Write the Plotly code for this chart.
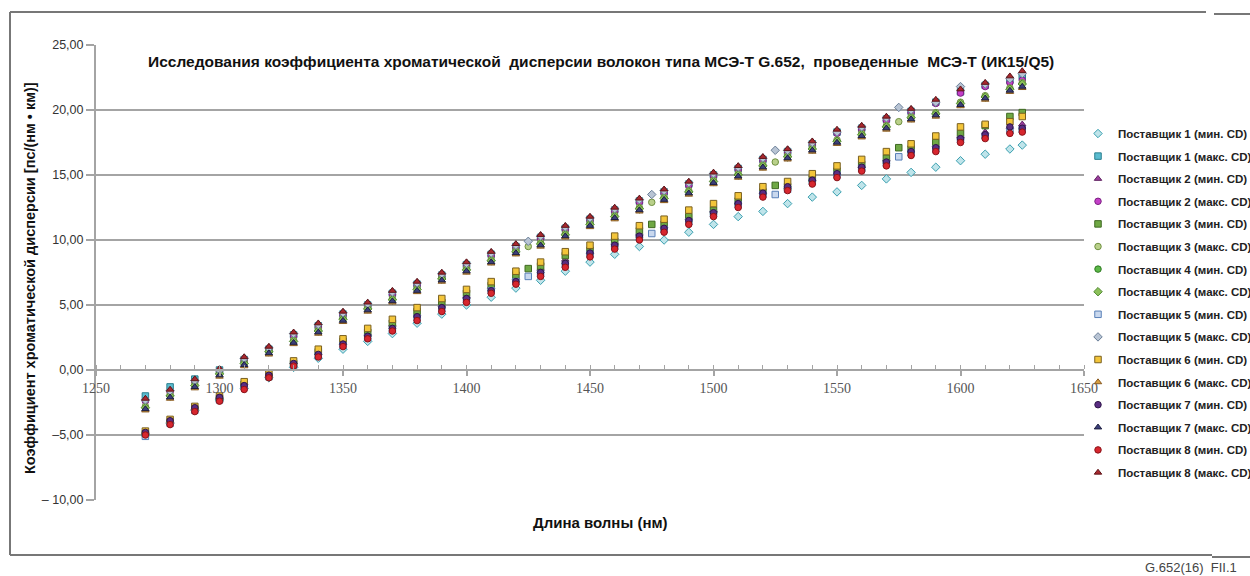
import plotly.graph_objects as go

# wavelengths (nm)
WAVE = [1270, 1280, 1290, 1300, 1310, 1320, 1330, 1340, 1350, 1360, 1370, 1380, 1390,
        1400, 1410, 1420, 1430, 1440, 1450, 1460, 1470, 1480, 1490, 1500, 1510, 1520,
        1530, 1540, 1550, 1560, 1570, 1580, 1590, 1600, 1610, 1620, 1625]
WAVE_EXTRA = [1425, 1475, 1525, 1575]

# chromatic dispersion coefficient, ps/(nm*km)
S1_MIN = [-5.0, -4.1, -3.1, -2.3, -1.4, -0.6, 0.2, 0.9, 1.6, 2.2, 2.8, 3.6, 4.3, 5.0, 5.6, 6.3, 6.9, 7.6, 8.3, 8.9,
          9.5, 10.0, 10.6, 11.2, 11.8, 12.2, 12.8, 13.3, 13.7, 14.2, 14.7, 15.2, 15.6, 16.1, 16.6, 17.0, 17.3]
S1_MAX = [-2.0, -1.3, -0.7, 0.0, 0.8, 1.6, 2.7, 3.4, 4.3, 5.0, 5.9, 6.6, 7.3, 8.1, 8.9, 9.5, 10.2, 10.9, 11.6, 12.3,
          13.0, 13.7, 14.3, 15.0, 15.5, 16.2, 16.8, 17.4, 18.3, 18.6, 19.3, 19.9, 20.6, 21.4, 21.9, 22.3, 22.6]
S2_MIN = [-4.8, -3.9, -2.9, -2.1, -1.0, -0.4, 0.6, 1.3, 2.1, 2.8, 3.5, 4.3, 5.0, 5.7, 6.4, 7.1, 7.8, 8.5, 9.1, 9.8,
          10.5, 11.1, 11.7, 12.3, 12.9, 13.7, 14.1, 14.7, 15.2, 15.7, 16.2, 16.9, 17.3, 18.0, 18.3, 18.7, 18.9]
S2_MAX = [-2.4, -1.7, -0.9, -0.1, 0.7, 1.5, 2.6, 3.3, 4.2, 4.9, 5.8, 6.5, 7.2, 8.0, 8.8, 9.4, 10.1, 10.8, 11.5, 12.2,
          12.9, 13.6, 14.2, 14.9, 15.4, 16.1, 16.7, 17.3, 18.2, 18.5, 19.2, 19.8, 20.5, 21.3, 21.8, 22.1, 22.3]
S3_MIN = [-4.9, -4.0, -3.0, -2.2, -1.1, -0.5, 0.5, 1.4, 2.2, 2.9, 3.6, 4.5, 5.2, 5.9, 6.5, 7.3, 8.0, 8.8, 9.2, 9.9,
          10.7, 11.2, 11.8, 12.3, 13.0, 13.7, 14.1, 14.7, 15.3, 15.8, 16.3, 17.0, 17.5, 18.2, 18.8, 19.5, 19.8]
S3_MIN_EXTRA = [7.8, 11.2, 14.2, 17.1]
S3_MAX = [-2.8, -1.9, -1.1, -0.2, 0.6, 1.5, 2.3, 3.1, 4.0, 4.8, 5.5, 6.3, 7.1, 7.8, 8.5, 9.2, 9.8, 10.5, 11.3, 11.9,
          12.5, 13.3, 13.8, 14.6, 15.1, 15.8, 16.5, 17.1, 17.7, 18.2, 18.8, 19.5, 19.8, 20.6, 21.1, 21.7, 22.1]
S3_MAX_EXTRA = [9.5, 12.9, 16.0, 19.1]
S4_MIN = [-4.9, -4.0, -3.0, -2.2, -1.3, -0.4, 0.5, 1.2, 2.0, 2.6, 3.2, 4.1, 4.8, 5.5, 6.1, 6.8, 7.5, 8.2, 8.9, 9.5,
          10.2, 10.8, 11.4, 12.0, 12.7, 13.5, 13.9, 14.5, 15.0, 15.4, 15.9, 16.7, 17.0, 17.7, 17.9, 18.3, 18.5]
S4_MAX = [-2.9, -2.0, -1.2, -0.3, 0.5, 1.4, 2.2, 3.0, 3.9, 4.7, 5.4, 6.2, 7.0, 7.7, 8.4, 9.1, 9.7, 10.4, 11.2, 11.8,
          12.4, 13.2, 13.7, 14.5, 15.0, 15.7, 16.4, 17.0, 17.6, 18.1, 18.7, 19.4, 19.7, 20.5, 21.0, 21.6, 22.0]
S5_MIN = [-5.1, -4.1, -3.1, -2.3, -1.3, -0.5, 0.4, 1.1, 1.9, 2.5, 3.1, 4.0, 4.7, 5.4, 6.1, 6.8, 7.4, 8.1, 8.9, 9.5,
          10.2, 10.8, 11.4, 12.0, 12.7, 13.5, 13.9, 14.5, 15.0, 15.5, 15.9, 16.7, 17.0, 17.7, 18.0, 18.4, 18.5]
S5_MIN_EXTRA = [7.2, 10.5, 13.5, 16.4]
S5_MAX = [-2.3, -1.6, -0.8, 0.0, 0.9, 1.7, 2.8, 3.5, 4.4, 5.1, 6.0, 6.7, 7.4, 8.2, 9.0, 9.6, 10.3, 11.0, 11.7, 12.4,
          13.1, 13.8, 14.4, 15.1, 15.6, 16.3, 16.9, 17.5, 18.3, 18.7, 19.4, 20.0, 20.6, 21.8, 22.0, 22.4, 22.8]
S5_MAX_EXTRA = [9.9, 13.5, 16.9, 20.2]
S6_MIN = [-4.7, -3.8, -2.8, -2.0, -0.9, -0.3, 0.7, 1.6, 2.4, 3.2, 3.9, 4.8, 5.5, 6.2, 6.8, 7.6, 8.3, 9.1, 9.6, 10.3,
          11.1, 11.6, 12.3, 12.8, 13.4, 14.1, 14.5, 15.1, 15.7, 16.2, 16.8, 17.4, 18.0, 18.7, 18.9, 19.1, 19.5]
S6_MAX = [-3.1, -2.2, -1.4, -0.5, 0.3, 1.2, 2.0, 2.8, 3.7, 4.5, 5.2, 6.0, 6.8, 7.5, 8.2, 8.9, 9.5, 10.2, 11.0, 11.6,
          12.2, 13.0, 13.5, 14.3, 14.8, 15.5, 16.2, 16.8, 17.4, 17.9, 18.5, 19.2, 19.5, 20.3, 20.8, 21.4, 21.7]
S7_MIN = [-4.8, -3.9, -2.9, -2.1, -1.2, -0.4, 0.5, 1.2, 2.0, 2.6, 3.2, 4.1, 4.8, 5.5, 6.1, 6.8, 7.5, 8.2, 9.0, 9.6,
          10.3, 10.9, 11.5, 12.1, 12.8, 13.6, 14.1, 14.6, 15.1, 15.6, 16.0, 16.8, 17.1, 17.8, 18.1, 18.7, 18.6]
S7_MAX = [-3.0, -2.1, -1.3, -0.4, 0.4, 1.3, 2.1, 2.9, 3.8, 4.6, 5.3, 6.1, 6.9, 7.6, 8.3, 9.0, 9.6, 10.3, 11.1, 11.7,
          12.3, 13.1, 13.6, 14.4, 14.9, 15.6, 16.3, 16.9, 17.5, 18.0, 18.6, 19.3, 19.6, 20.4, 20.9, 21.5, 21.8]
S8_MIN = [-5.0, -4.2, -3.2, -2.4, -1.5, -0.6, 0.3, 1.0, 1.8, 2.4, 3.0, 3.8, 4.5, 5.2, 5.9, 6.6, 7.2, 7.9, 8.7, 9.3,
          10.0, 10.6, 11.2, 11.8, 12.5, 13.3, 13.8, 14.3, 14.8, 15.3, 15.7, 16.5, 16.8, 17.5, 17.8, 18.2, 18.3]
S8_MAX = [-2.2, -1.5, -0.7, 0.1, 1.0, 1.8, 2.9, 3.6, 4.5, 5.2, 6.1, 6.8, 7.5, 8.3, 9.1, 9.7, 10.4, 11.1, 11.8, 12.5,
          13.2, 13.9, 14.5, 15.2, 15.7, 16.4, 17.0, 17.6, 18.5, 18.8, 19.5, 20.1, 20.8, 21.6, 22.1, 22.6, 23.0]

Y_TICKS = [-10, -5, 0, 5, 10, 15, 20, 25]
Y_TICK_TEXT = ["– 10,00", "–5,00", "0,00", "5,00", "10,00", "15,00", "20,00", "25,00"]
X_TICKS = [1250, 1300, 1350, 1400, 1450, 1500, 1550, 1600, 1650]

TITLE = "Исследования коэффициента хроматической  дисперсии волокон типа МСЭ-Т G.652,  проведенные  МСЭ-Т (ИК15/Q5)"
X_TITLE = "Длина волны (нм)"
Y_TITLE = "Коэффициент хроматической дисперсии [пс/(нм • км)]"
FIG_ID = "G.652(16)  FII.1"

series = [
    ("Поставщик 1 (мин. CD)", WAVE, S1_MIN, "diamond", "#bfe4ea", "#3aa0b0"),
    ("Поставщик 1 (макс. CD)", WAVE, S1_MAX, "square", "#5bbcd0", "#2a7f8f"),
    ("Поставщик 2 (мин. CD)", WAVE, S2_MIN, "triangle-up", "#9c3f9e", "#5e1f60"),
    ("Поставщик 2 (макс. CD)", WAVE, S2_MAX, "circle", "#c43fc8", "#7a2080"),
    ("Поставщик 3 (мин. CD)", WAVE + WAVE_EXTRA, S3_MIN + S3_MIN_EXTRA, "square", "#6fa844", "#3f6a22"),
    ("Поставщик 3 (макс. CD)", WAVE + WAVE_EXTRA, S3_MAX + S3_MAX_EXTRA, "circle", "#b9d08a", "#6f9040"),
    ("Поставщик 4 (мин. CD)", WAVE, S4_MIN, "circle", "#5cb848", "#2f7a22"),
    ("Поставщик 4 (макс. CD)", WAVE, S4_MAX, "diamond", "#8cc05a", "#4f8a30"),
    ("Поставщик 5 (мин. CD)", WAVE + WAVE_EXTRA, S5_MIN + S5_MIN_EXTRA, "square", "#c9d8ee", "#5a80b8"),
    ("Поставщик 5 (макс. CD)", WAVE + WAVE_EXTRA, S5_MAX + S5_MAX_EXTRA, "diamond", "#b8c4d4", "#6a7f98"),
    ("Поставщик 6 (мин. CD)", WAVE, S6_MIN, "square", "#f3c53a", "#7a6020"),
    ("Поставщик 6 (макс. CD)", WAVE, S6_MAX, "triangle-up", "#d8a040", "#8a5a20"),
    ("Поставщик 7 (мин. CD)", WAVE, S7_MIN, "circle", "#5a2d82", "#2e1648"),
    ("Поставщик 7 (макс. CD)", WAVE, S7_MAX, "triangle-up", "#3b3f7a", "#1c1e40"),
    ("Поставщик 8 (мин. CD)", WAVE, S8_MIN, "circle", "#d7262e", "#8a1218"),
    ("Поставщик 8 (макс. CD)", WAVE, S8_MAX, "triangle-up", "#a8282e", "#5e1418"),
]

fig = go.Figure()
for name, xs, ys, sym, fill, edge in series:
    fig.add_trace(go.Scatter(
        x=xs, y=ys, mode="markers", name=name, legendgroup=name,
        marker=dict(symbol=sym, size=6.5, color=fill, line=dict(color=edge, width=1)),
    ))

W, H = 1250, 576
L, R, T, B = 96, 166, 45, 76
pw, ph = W - L - R, H - T - B


def px(x):
    return (x - L) / pw


def py(y):
    return (H - B - y) / ph


GRID = "#a4a4a4"
fig.update_layout(
    width=W, height=H,
    margin=dict(l=L, r=R, t=T, b=B, autoexpand=False),
    paper_bgcolor="white", plot_bgcolor="white",
    font=dict(family="Liberation Sans, Arial, sans-serif", color="#333333"),
    showlegend=True,
    legend=dict(x=px(1078), y=py(119), xanchor="left", yanchor="top",
                font=dict(size=11.5, color="#222222", weight="bold"),
                tracegroupgap=3.6, itemwidth=30,
                bgcolor="rgba(0,0,0,0)"),
    xaxis=dict(range=[1250, 1650], tickvals=X_TICKS, showgrid=False, zeroline=False,
               anchor="free", position=10 / 35, showline=True, linecolor=GRID, linewidth=2,
               ticks="outside", ticklen=5, tickcolor=GRID, tickwidth=1.5,
               tickfont=dict(family="Liberation Serif, Times New Roman, serif", size=14, color="#555555"),
               minor=dict(dtick=10, ticks="inside", ticklen=4, tickcolor=GRID, tickwidth=1),
               fixedrange=True),
    yaxis=dict(range=[-10, 25], tickvals=Y_TICKS, ticktext=Y_TICK_TEXT, showgrid=True,
               gridcolor=GRID, gridwidth=2, zeroline=False, showline=True, linecolor=GRID,
               linewidth=2, ticks="outside", ticklen=8, tickcolor=GRID, tickwidth=2,
               tickfont=dict(size=12.5, color="#333333"), fixedrange=True),
)

# Frame around the figure
for x0, y0, x1, y1 in [(10, 12, 1206, 12), (1214, 14, 1250, 14), (10, 12, 10, 555),
                       (10, 555, 1212, 555), (1212, 557, 1250, 557)]:
    fig.add_shape(type="line", xref="paper", yref="paper",
                  x0=px(x0), y0=py(y0), x1=px(x1), y1=py(y1),
                  line=dict(color="#777777", width=2))

fig.add_annotation(text="<b>" + TITLE + "</b>", xref="paper", yref="paper",
                   x=px(146), y=py(62), xanchor="left", yanchor="middle", showarrow=False,
                   font=dict(size=15.5, color="#111111"))
fig.add_annotation(text="<b>" + X_TITLE + "</b>", xref="paper", yref="paper",
                   x=px(600), y=py(522), xanchor="center", yanchor="middle", showarrow=False,
                   font=dict(size=15, color="#111111"))
fig.add_annotation(text="<b>" + Y_TITLE + "</b>", xref="paper", yref="paper",
                   x=px(30), y=py(278), xanchor="center", yanchor="middle", showarrow=False,
                   textangle=-90, font=dict(size=14.5, color="#111111"))
fig.add_annotation(text=FIG_ID, xref="paper", yref="paper",
                   x=px(1143), y=py(567), xanchor="left", yanchor="middle", showarrow=False,
                   font=dict(size=13, color="#444444"))

fig.write_html("out.html", config={"displayModeBar": False},
               post_script="document.body.style.margin='0';document.body.style.overflow='hidden';")
